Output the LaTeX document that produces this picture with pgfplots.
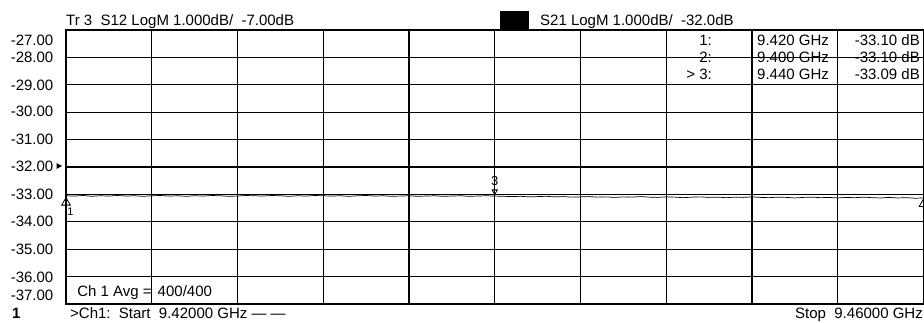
\documentclass[border=0pt]{standalone}
\usepackage{pgfplots}
\pgfplotsset{compat=1.18}
\usepackage{fontspec}
\setmainfont{Liberation Sans}
\begin{document}
\fontsize{15}{18}\selectfont
\begin{tikzpicture}[x=1pt,y=1pt]
\useasboundingbox (0,0) rectangle (924,323);
% x: frequency offset from 9.42000 GHz, in MHz
\begin{axis}[
  at={(66pt,19pt)}, anchor=south west,
  scale only axis, width=857.5pt, height=274pt,
  xmin=0, xmax=40, ymin=-37, ymax=-27,
  xtick={4,8,12,16,20,24,28,32,36},
  ytick={-36,-35,-34,-33,-32,-31,-30,-29,-28},
  xticklabels={}, yticklabels={},
  major tick length=0pt,
  grid=major,
  major grid style={black, line width=1.2pt},
  axis line style={black, line width=1.2pt},
  clip=false,
]
\addplot[black, line width=0.7pt] table {
x y
0.0 -33.05
0.4 -33.06
0.8 -33.04
1.2 -33.07
1.6 -33.05
2.0 -33.06
2.4 -33.04
2.8 -33.06
3.2 -33.05
3.6 -33.07
4.0 -33.05
4.4 -33.04
4.8 -33.06
5.2 -33.05
5.6 -33.07
6.0 -33.05
6.4 -33.06
6.8 -33.04
7.2 -33.05
7.6 -33.07
8.0 -33.06
8.4 -33.04
8.8 -33.05
9.2 -33.06
9.6 -33.04
10.0 -33.05
10.4 -33.07
10.8 -33.05
11.2 -33.06
11.6 -33.04
12.0 -33.05
12.4 -33.06
12.8 -33.05
13.2 -33.07
13.6 -33.05
14.0 -33.04
14.4 -33.06
14.8 -33.05
15.2 -33.07
15.6 -33.06
16.0 -33.05
16.4 -33.07
16.8 -33.06
17.2 -33.05
17.6 -33.07
18.0 -33.06
18.4 -33.05
18.8 -33.07
19.2 -33.06
19.6 -33.05
20.0 -33.06
20.4 -33.07
20.8 -33.08
21.2 -33.07
21.6 -33.09
22.0 -33.08
22.4 -33.07
22.8 -33.09
23.2 -33.08
23.6 -33.10
24.0 -33.09
24.4 -33.08
24.8 -33.10
25.2 -33.09
25.6 -33.11
26.0 -33.09
26.4 -33.10
26.8 -33.08
27.2 -33.10
27.6 -33.11
28.0 -33.09
28.4 -33.10
28.8 -33.12
29.2 -33.10
29.6 -33.09
30.0 -33.11
30.4 -33.10
30.8 -33.12
31.2 -33.10
31.6 -33.11
32.0 -33.09
32.4 -33.11
32.8 -33.12
33.2 -33.10
33.6 -33.11
34.0 -33.13
34.4 -33.11
34.8 -33.10
35.2 -33.12
35.6 -33.11
36.0 -33.13
36.4 -33.11
36.8 -33.12
37.2 -33.10
37.6 -33.12
38.0 -33.13
38.4 -33.11
38.8 -33.13
39.2 -33.12
39.6 -33.14
40.0 -33.13
};
% markers 1 and 2 (edges) and 3 (centre)
\addplot[only marks, mark=triangle, mark size=5pt, mark options={black, line width=0.8pt, fill=white}] coordinates {(0,-33.30) (40,-33.35)};
\addplot[only marks, mark=triangle, mark size=3pt, mark options={black, line width=0.8pt, rotate=180}] coordinates {(20,-32.89)};
\node[font=\fontsize{13}{14}\selectfont] at (axis cs:20,-32.52) {3};
\node[font=\fontsize{11}{12}\selectfont, anchor=west, inner sep=0pt] at (axis cs:0.05,-33.62) {1};
% text inside the grid
\node[anchor=base west, inner sep=0pt] at (axis cs:0.52,-36.73) {Ch 1 Avg =};
\node[anchor=base west, inner sep=0pt] at (axis cs:4.27,-36.73) {400/400};
\end{axis}
% reference level arrow at -32
\fill[black] (56.5,154) -- (56.5,160) -- (62,157) -- cycle;
% y labels
\foreach \lab/\yc in {-27.00/40,-28.00/57.5,-29.00/85,-30.00/111.5,-31.00/139,-32.00/166,-33.00/194,-34.00/221.5,-35.00/249,-36.00/277.5,-37.00/295.5}{
  \node[anchor=base east, inner sep=0pt] at (53.5, 323-\yc-5.4) {\lab};
}
% top text
\node[anchor=base west, inner sep=0pt] at (66,297) {Tr 3\ \ S12 LogM 1.000dB/\ \ -7.00dB};
\fill[black] (500,293) rectangle (529,312);
\node[anchor=base west, inner sep=0pt] at (540,297) {S21 LogM 1.000dB/\ \ -32.0dB};
% marker table
\node[anchor=base east, inner sep=0pt] at (712,277) {1:};
\node[anchor=base east, inner sep=0pt] at (712,260) {2:};
\node[anchor=base east, inner sep=0pt] at (712,243) {>\ 3:};
\node[anchor=base west, inner sep=0pt] at (757,277) {9.420 GHz};
\node[anchor=base west, inner sep=0pt] at (757,260) {9.400 GHz};
\node[anchor=base west, inner sep=0pt] at (757,243) {9.440 GHz};
\node[anchor=base east, inner sep=0pt] at (920,277) {-33.10 dB};
\node[anchor=base east, inner sep=0pt] at (920,260) {-33.10 dB};
\node[anchor=base east, inner sep=0pt] at (920,243) {-33.09 dB};
% bottom text
\node[anchor=base west, inner sep=0pt] at (12,4) {\bfseries 1};
\node[anchor=base west, inner sep=0pt] at (70,4) {>Ch1:\ \ Start\ \ 9.42000 GHz — —};
\node[anchor=base east, inner sep=0pt] at (923,4) {Stop\ \ 9.46000 GHz};
\end{tikzpicture}
\end{document}
